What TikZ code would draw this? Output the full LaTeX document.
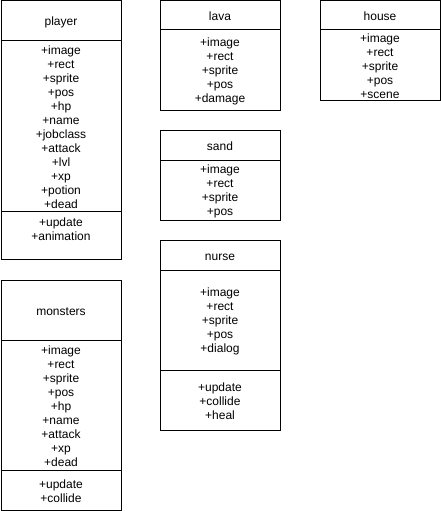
\documentclass[tikz,border=0pt]{standalone}
\usepackage{fontspec}
\setmainfont{Liberation Sans}
\newcommand\rw[1]{\rule[-1.6pt]{0pt}{14pt}#1}
\newcommand\cellfont{\fontsize{12}{14}\selectfont\lineskiplimit=-100pt\relax\lineskip=0pt\relax}
\begin{document}
\begin{tikzpicture}[x=1pt,y=-1pt,
  cell/.style={draw, line width=1pt, outer sep=0pt, inner sep=0pt,
    minimum width=120pt, anchor=north west, align=center,
    font=\cellfont}]
\fill[white] (0,0) rectangle (441,511);
\useasboundingbox (0,0) rectangle (441,511);
% player
\node[cell, minimum height=40pt] (playerT) at (1,1) {\rw{player}};
\node[cell, minimum height=170pt] (playerA) at (1,41) {\rw{+image}\\\rw{+rect}\\\rw{+sprite}\\\rw{+pos}\\\rw{+hp}\\\rw{+name}\\\rw{+jobclass}\\\rw{+attack}\\\rw{+lvl}\\\rw{+xp}\\\rw{+potion}\\\rw{+dead}};
\node[cell, minimum height=48pt] (playerM) at (1,211) {\rw{+update}\\\rw{+animation}\\\rw{}};
% monsters
\node[cell, minimum height=60pt] (monT) at (1,280) {\rw{monsters}};
\node[cell, minimum height=130pt] (monA) at (1,340) {\rw{+image}\\\rw{+rect}\\\rw{+sprite}\\\rw{+pos}\\\rw{+hp}\\\rw{+name}\\\rw{+attack}\\\rw{+xp}\\\rw{+dead}};
\node[cell, minimum height=40pt] (monM) at (1,470) {\rw{+update}\\\rw{+collide}};
% lava
\node[cell, minimum height=29pt] (lavaT) at (160,1) {\rw{lava}};
\node[cell, minimum height=80pt] (lavaA) at (160,30) {\rw{+image}\\\rw{+rect}\\\rw{+sprite}\\\rw{+pos}\\\rw{+damage}};
% sand
\node[cell, minimum height=30pt] (sandT) at (160,130) {\rw{sand}};
\node[cell, minimum height=60pt] (sandA) at (160,160) {\rw{+image}\\\rw{+rect}\\\rw{+sprite}\\\rw{+pos}};
% nurse
\node[cell, minimum height=30pt] (nurseT) at (160,240) {\rw{nurse}};
\node[cell, minimum height=100pt] (nurseA) at (160,270) {\rw{+image}\\\rw{+rect}\\\rw{+sprite}\\\rw{+pos}\\\rw{+dialog}};
\node[cell, minimum height=60pt] (nurseM) at (160,370) {\rw{+update}\\\rw{+collide}\\\rw{+heal}};
% house
\node[cell, minimum height=29pt] (houseT) at (320,1) {\rw{house}};
\node[cell, minimum height=70pt] (houseA) at (320,30) {\rw{+image}\\\rw{+rect}\\\rw{+sprite}\\\rw{+pos}\\\rw{+scene}};
\end{tikzpicture}
\end{document}
